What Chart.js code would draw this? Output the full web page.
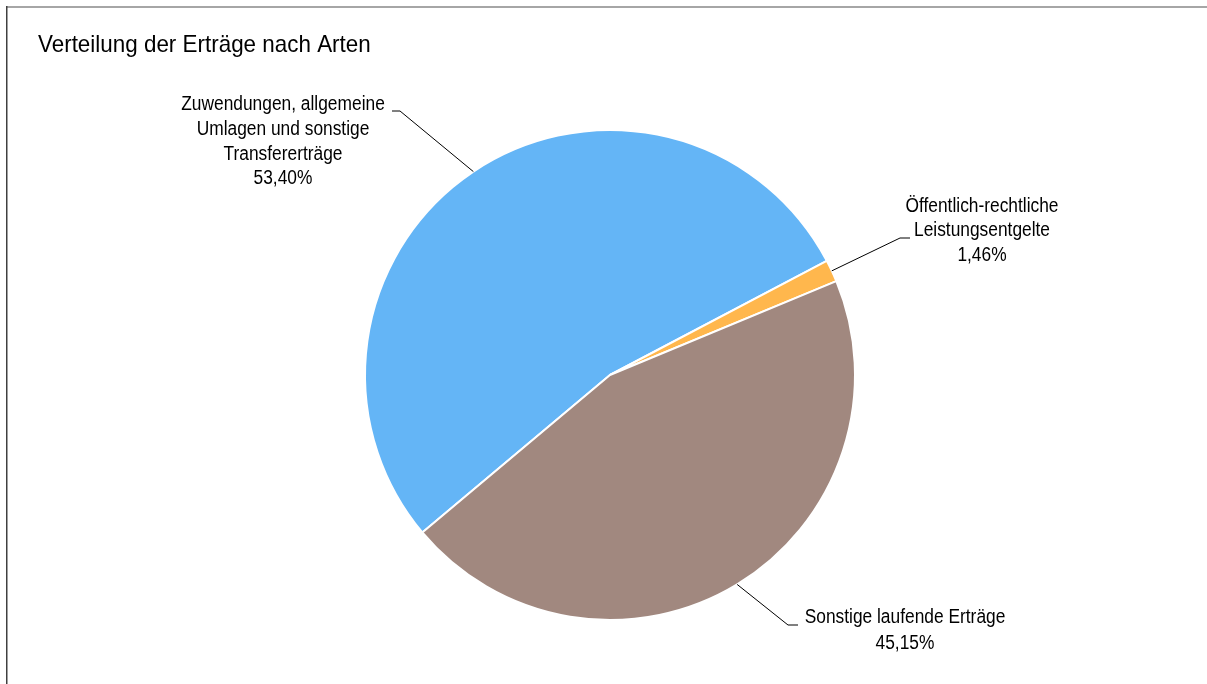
<!DOCTYPE html>
<html><head><meta charset="utf-8">
<script src="https://cdn.jsdelivr.net/npm/chart.js@4"></script>
<style>html,body{margin:0;padding:0;background:#fff}#wrap{width:1207px;height:684px;position:relative}</style>
</head><body><div id="wrap"><canvas id="c" width="1207" height="684"></canvas></div>
<script>
const chartTitle = 'Verteilung der Erträge nach Arten';
const categories = [
  ['Zuwendungen, allgemeine', 'Umlagen und sonstige', 'Transfererträge'],
  ['Öffentlich-rechtliche', 'Leistungsentgelte'],
  ['Sonstige laufende Erträge']
];
const shares = [53.40, 1.46, 45.15];
const colors = ['#64b5f6', '#ffb74d', '#a1887f'];

const FONT = '"Liberation Sans", Arial, sans-serif';

// label layout (text block centre x, first line centre y, line height, elbow point, horizontal end x)
const labelLayout = [
  {cx: 283, y0: 105, lh: 24.6, elbow: [400, 111], hEnd: 392},
  {cx: 982, y0: 206.5, lh: 24.4, elbow: [900, 238], hEnd: 910},
  {cx: 905, y0: 618, lh: 25.5, elbow: [788, 625], hEnd: 798}
];

const fmt = v => v.toFixed(2).replace('.', ',') + '%';

function narrowText(ctx, text, x, y, sx, align) {
  ctx.save();
  ctx.translate(x, y);
  ctx.scale(sx, 1);
  ctx.textAlign = align;
  ctx.textBaseline = 'middle';
  ctx.fillText(text, 0, 0);
  ctx.restore();
}

const framePlugin = {
  id: 'frame',
  beforeDraw(chart) {
    const ctx = chart.ctx;
    ctx.save();
    ctx.fillStyle = '#fff';
    ctx.fillRect(0, 0, chart.width, chart.height);
    ctx.fillStyle = '#a6a6a6';
    ctx.fillRect(6, 6, chart.width - 6, 2);
    ctx.fillStyle = '#404040';
    ctx.fillRect(6, 6, 1.5, chart.height - 6);
    ctx.fillStyle = '#000';
    ctx.font = '24px ' + FONT;
    narrowText(ctx, chartTitle, 38, 45, 0.934, 'left');
    ctx.restore();
  }
};

const labelPlugin = {
  id: 'pieLabels',
  afterDatasetsDraw(chart) {
    const ctx = chart.ctx;
    const meta = chart.getDatasetMeta(0);
    ctx.save();
    meta.data.forEach((arc, i) => {
      const p = arc.getProps(['x', 'y', 'startAngle', 'endAngle', 'outerRadius'], true);
      const mid = (p.startAngle + p.endAngle) / 2;
      const ax = p.x + Math.cos(mid) * p.outerRadius;
      const ay = p.y + Math.sin(mid) * p.outerRadius;
      const L = labelLayout[i];
      ctx.strokeStyle = '#000';
      ctx.lineWidth = 1;
      ctx.beginPath();
      ctx.moveTo(ax, ay);
      ctx.lineTo(L.elbow[0], L.elbow[1]);
      ctx.lineTo(L.hEnd, L.elbow[1]);
      ctx.stroke();
      const lines = categories[i].concat([fmt(shares[i])]);
      ctx.fillStyle = '#000';
      ctx.font = '19.5px ' + FONT;
      lines.forEach((t, k) => narrowText(ctx, t, L.cx, L.y0 + k * L.lh, 0.89, 'center'));
    });
    ctx.restore();
  }
};

new Chart(document.getElementById('c'), {
  type: 'pie',
  data: {
    labels: categories.map(c => c.join(' ')),
    datasets: [{
      data: shares,
      backgroundColor: colors,
      borderColor: '#ffffff',
      borderWidth: 2
    }]
  },
  options: {
    responsive: false,
    animation: false,
    rotation: 230,
    layout: {padding: {left: 364, right: 351, top: 129, bottom: 63}},
    plugins: {legend: {display: false}, tooltip: {enabled: false}, title: {display: false}}
  },
  plugins: [framePlugin, labelPlugin]
});
</script>
</body></html>
